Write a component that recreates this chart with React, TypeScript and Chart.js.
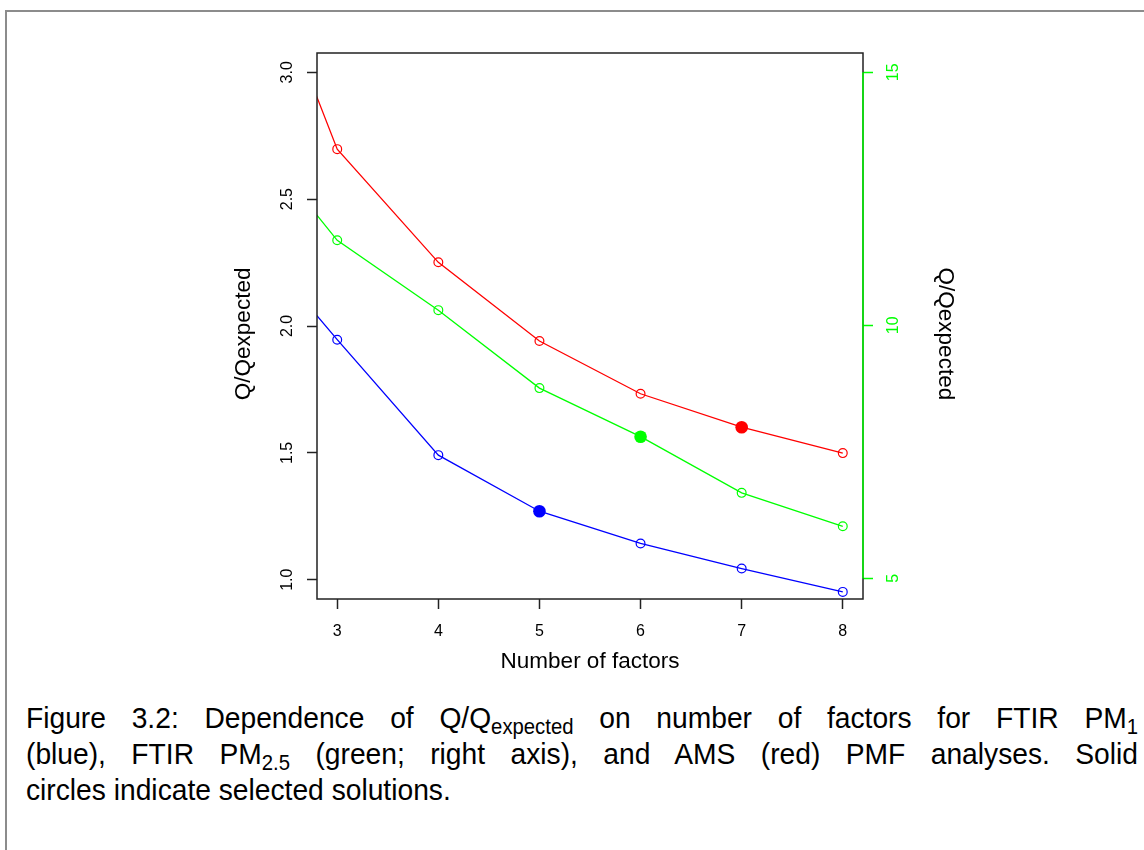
import React, { useEffect, useRef } from "react";
import { Chart, registerables } from "chart.js";

Chart.register(...registerables);

// ---- data ----
const factors = [2, 3, 4, 5, 6, 7, 8];
const ftirPM1 = [2.42, 1.946, 1.491, 1.27, 1.143, 1.044, 0.952]; // blue, left axis
const ams = [3.72, 2.697, 2.251, 1.941, 1.733, 1.601, 1.499]; // red, left axis
const ftirPM25 = [14.15, 11.68, 10.3, 8.76, 7.8, 6.69, 6.03]; // green, right axis
const selectedPM1 = 5;
const selectedAMS = 7;
const selectedPM25 = 6;

const xTickValues = [3, 4, 5, 6, 7, 8];
const leftTickValues = [1.0, 1.5, 2.0, 2.5, 3.0];
const rightTickValues = [5, 10, 15];

const xRange = [2.8, 8.2];
const leftRange = [0.924, 3.076];
const rightRange = [4.593, 15.381];

const xTitle = "Number of factors";
const yTitle = "Q/Qexpected";

const RED = "#ff0000";
const GREEN = "#00ff00";
const BLUE = "#0000ff";
const FONT = "'Liberation Sans', Arial, Helvetica, sans-serif";
const PAD = "\u2002\u2009";

function makeSeries(values: number[], selected: number, color: string, axis: string, label: string) {
  return {
    label,
    yAxisID: axis,
    data: factors.map((f, i) => ({ x: f, y: values[i] })),
    borderColor: color,
    borderWidth: 1.3,
    tension: 0,
    pointRadius: factors.map((f) => (f === selected ? 6.3 : 4.4)),
    pointHoverRadius: factors.map((f) => (f === selected ? 6.3 : 4.4)),
    pointBackgroundColor: factors.map((f) => (f === selected ? color : "rgba(0,0,0,0)")),
    pointBorderColor: color,
    pointBorderWidth: factors.map((f) => (f === selected ? 0 : 1.2)),
  };
}

const boxPlugin = {
  id: "rbox",
  afterDraw(chart: any) {
    const { ctx, chartArea } = chart;
    const y2 = chart.scales.y2;
    ctx.save();
    ctx.strokeStyle = "#222";
    ctx.lineWidth = 1.5;
    ctx.strokeRect(chartArea.left, chartArea.top, chartArea.right - chartArea.left, chartArea.bottom - chartArea.top);
    ctx.strokeStyle = GREEN;
    ctx.beginPath();
    ctx.moveTo(chartArea.right, y2.getPixelForValue(rightTickValues[0]));
    ctx.lineTo(chartArea.right, y2.getPixelForValue(rightTickValues[rightTickValues.length - 1]));
    ctx.stroke();
    ctx.restore();
  },
};

function ChartCanvas() {
  const ref = useRef<HTMLCanvasElement | null>(null);
  useEffect(() => {
    if (!ref.current) return;
    const chart = new Chart(ref.current, {
      type: "line",
      data: {
        datasets: [
          makeSeries(ftirPM1, selectedPM1, BLUE, "y", "FTIR PM1"),
          makeSeries(ams, selectedAMS, RED, "y", "AMS"),
          makeSeries(ftirPM25, selectedPM25, GREEN, "y2", "FTIR PM2.5"),
        ] as any,
      },
      options: {
        responsive: false,
        animation: false,
        devicePixelRatio: 1,
        layout: { padding: { top: 53, left: 0, right: 0, bottom: 0 } },
        plugins: { legend: { display: false }, tooltip: { enabled: false } },
        events: [],
        scales: {
          x: {
            type: "linear",
            position: "bottom",
            min: xRange[0],
            max: xRange[1],
            afterBuildTicks: (s: any) => {
              s.ticks = xTickValues.map((v) => ({ value: v }));
            },
            afterFit: (s: any) => {
              s.height = 81;
            },
            border: { display: false },
            grid: { drawOnChartArea: false, drawTicks: true, tickLength: 10, tickColor: "#222", tickWidth: 1.5 },
            ticks: {
              autoSkip: false,
              maxRotation: 0,
              minRotation: 0,
              padding: 13,
              color: "#000",
              font: { family: FONT, size: 16 },
              callback: (v: any) => String(v),
            },
            title: {
              display: true,
              text: xTitle,
              color: "#000",
              font: { family: FONT, size: 22.5 },
              padding: { top: 0, bottom: 5 },
            },
          },
          y: {
            type: "linear",
            position: "left",
            min: leftRange[0],
            max: leftRange[1],
            afterBuildTicks: (s: any) => {
              s.ticks = leftTickValues.map((v) => ({ value: v }));
            },
            afterFit: (s: any) => {
              s.width = 317;
            },
            border: { display: false },
            grid: { drawOnChartArea: false, drawTicks: true, tickLength: 10, tickColor: "#222", tickWidth: 1.5 },
            ticks: {
              autoSkip: false,
              minRotation: 90,
              maxRotation: 90,
              crossAlign: "center",
              padding: 8,
              color: "#000",
              font: { family: FONT, size: 16 },
              callback: (v: any) => Number(v).toFixed(1),
            },
            title: {
              display: true,
              text: yTitle + PAD,
              color: "#000",
              font: { family: FONT, size: 22.5 },
              padding: { top: 230, bottom: 0 },
            },
          },
          y2: {
            type: "linear",
            position: "right",
            min: rightRange[0],
            max: rightRange[1],
            afterBuildTicks: (s: any) => {
              s.ticks = rightTickValues.map((v) => ({ value: v }));
            },
            afterFit: (s: any) => {
              s.width = 281;
            },
            border: { display: false },
            grid: { drawOnChartArea: false, drawTicks: true, tickLength: 10, tickColor: GREEN, tickWidth: 1.5 },
            ticks: {
              autoSkip: false,
              minRotation: 90,
              maxRotation: 90,
              crossAlign: "center",
              padding: 11.5,
              color: GREEN,
              font: { family: FONT, size: 16 },
              callback: (v: any) => String(v),
            },
            title: {
              display: true,
              text: PAD + yTitle,
              color: "#000",
              font: { family: FONT, size: 22.5 },
              padding: { top: 185, bottom: 0 },
            },
          },
        },
      } as any,
      plugins: [boxPlugin],
    });
    return () => chart.destroy();
  }, []);
  return (
    <canvas
      ref={ref}
      width={1144}
      height={680}
      style={{ position: "absolute", left: 0, top: 0, width: 1144, height: 680 }}
    />
  );
}

const CAP_SCALE = 0.94;
const subStyle: React.CSSProperties = { fontSize: "0.72em", verticalAlign: "-0.28em", lineHeight: 0 };
const lineBase: React.CSSProperties = {
  width: 1112 / CAP_SCALE,
  height: 36,
  transform: `scaleX(${CAP_SCALE})`,
  transformOrigin: "0 0",
  whiteSpace: "normal",
};
const justifyLine: React.CSSProperties = { ...lineBase, textAlign: "justify", textAlignLast: "justify" as any };

export default function App() {
  return (
    <div style={{ position: "absolute", left: 0, top: 0, width: 1144, height: 850, background: "#fff", overflow: "hidden" }}>
      <div
        style={{
          position: "absolute",
          left: 5,
          top: 10,
          width: 1200,
          height: 900,
          borderTop: "2px solid #8c8c8c",
          borderLeft: "2px solid #8c8c8c",
        }}
      />
      <ChartCanvas />
      <div
        style={{
          position: "absolute",
          left: 26,
          top: 700,
          width: 1112,
          fontFamily: FONT,
          fontSize: 30,
          lineHeight: "36px",
          color: "#000",
        }}
      >
        <div style={justifyLine}>
          Figure 3.2: Dependence of Q/Q<sub style={subStyle}>expected</sub> on number of factors for FTIR PM<sub style={subStyle}>1</sub>
        </div>
        <div style={justifyLine}>
          (blue), FTIR PM<sub style={subStyle}>2.5</sub> (green; right axis), and AMS (red) PMF analyses. Solid
        </div>
        <div style={lineBase}>circles indicate selected solutions.</div>
      </div>
    </div>
  );
}
